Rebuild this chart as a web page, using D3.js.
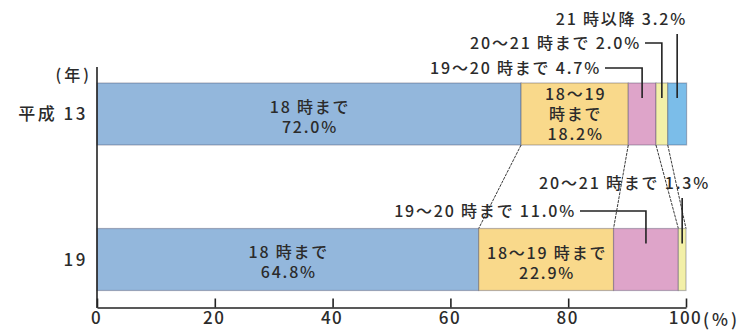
<!DOCTYPE html>
<html lang="ja">
<head>
  <meta charset="UTF-8" />
  <title>帰宅時刻の構成比</title>
  <script src="https://d3js.org/d3.v7.min.js"></script>
  <style>
    body {
      margin: 0;
      background: #fff;
      font-family: "Noto Sans CJK JP", "Noto Sans", sans-serif;
    }
    svg { display: block; }
    text { fill: #2b2b2b; font-weight: 500; }
  </style>
</head>
<body>
<svg id="chart" width="744" height="330"></svg>

<script>
  // data
  const years = ["平成 13", "19"];
  const categories = ["18 時まで", "18〜19 時まで", "19〜20 時まで", "20〜21 時まで", "21 時以降"];
  const h13 = [72.0, 18.2, 4.7, 2.0, 3.2];
  const h19 = [64.8, 22.9, 11.0, 1.3, 0];
  const xTicks = [0, 20, 40, 60, 80, 100];
  const colors = ["#93b7dc", "#f9d98b", "#dea4c9", "#f3f0a8", "#7bbde9"];

  const svg = d3.select("#chart");
  const x = d3.scaleLinear().domain([0, 100]).range([97, 686]);
  const y = d3.scalePoint().domain(years).range([114, 259.5]);
  const barH = 62;

  const series = [h13, h19];
  const fmt = d3.format(".1f");

  // stack each row
  const rows = series.map((vals, i) => {
    let acc = 0;
    return vals.map((v, j) => {
      const seg = { year: years[i], cat: j, v: v, x0: acc, x1: acc + v };
      acc += v;
      return seg;
    });
  });

  // connector lines between the two bars (segment boundaries)
  const g = svg.append("g");
  for (let j = 0; j < 4; j++) {
    const b1 = rows[0][j].x1, b2 = Math.min(rows[1][j].x1, 100);
    g.append("line")
      .attr("x1", x(b1)).attr("y1", y(years[0]) + barH / 2)
      .attr("x2", x(b2)).attr("y2", y(years[1]) - barH / 2)
      .attr("stroke", "#3a3a3a")
      .attr("stroke-width", 1)
      .attr("stroke-dasharray", "3,1");
  }

  // bars
  rows.forEach(row => {
    g.selectAll(null)
      .data(row.filter(d => d.v > 0))
      .enter()
      .append("rect")
      .attr("x", d => x(d.x0))
      .attr("y", d => y(d.year) - barH / 2)
      .attr("width", d => x(d.x1) - x(d.x0))
      .attr("height", barH)
      .attr("fill", d => colors[d.cat])
      .attr("stroke", "rgba(60,60,90,0.35)")
      .attr("stroke-width", 1.2);
  });

  // axes
  const xAxis = svg.append("g")
    .attr("transform", "translate(0,307.5)")
    .call(d3.axisBottom(x).tickValues(xTicks).tickSizeInner(-9).tickSizeOuter(0).tickPadding(4));
  xAxis.select(".domain").attr("stroke", "#222").attr("stroke-width", 1.6);
  xAxis.selectAll(".tick line").attr("stroke", "#222").attr("stroke-width", 1.6);
  xAxis.selectAll(".tick text")
    .attr("font-size", 17)
    .attr("font-family", "'Noto Sans CJK JP', sans-serif")
    .attr("letter-spacing", 1.5)
    .attr("dx", -1)
    .attr("fill", "#2b2b2b");
  svg.append("text")
    .attr("x", x(100) + 17).attr("y", 326)
    .attr("font-size", 17)
    .attr("letter-spacing", 3)
    .text("(%)");

  svg.append("line")
    .attr("x1", x(0)).attr("x2", x(0))
    .attr("y1", 67).attr("y2", 308)
    .attr("stroke", "#222").attr("stroke-width", 1.6);

  // year labels
  svg.append("text")
    .attr("x", 92).attr("y", 81)
    .attr("text-anchor", "end")
    .attr("font-size", 16)
    .attr("letter-spacing", 3)
    .text("(年)");
  svg.selectAll(null)
    .data(years)
    .enter()
    .append("text")
    .attr("x", 88)
    .attr("y", d => y(d) + 6)
    .attr("text-anchor", "end")
    .attr("font-size", 17)
    .attr("letter-spacing", 2.5)
    .text(d => d);

  // labels inside the two big segments
  function inside(seg, lines, dy0) {
    const t = svg.append("text")
      .attr("text-anchor", "middle")
      .attr("font-size", 16)
      .attr("letter-spacing", 1.8);
    lines.forEach((s, k) => {
      t.append("tspan")
        .attr("x", x((seg.x0 + seg.x1) / 2) + 1)
        .attr("y", y(seg.year) + dy0 + k * 20)
        .text(s);
    });
  }
  inside(rows[0][0], ["18 時まで", fmt(h13[0]) + "%"], -1);
  inside(rows[0][1], ["18〜19", "時まで", fmt(h13[1]) + "%"], -14);
  inside(rows[1][0], ["18 時まで", fmt(h19[0]) + "%"], -2);
  inside(rows[1][1], ["18〜19 時まで", fmt(h19[1]) + "%"], -1);

  // callouts: label end x, label y, and the elbow/leader
  function callout(seg, label, textX, textY, lineY) {
    const cx = x((seg.x0 + seg.x1) / 2);
    const tipY = y(seg.year) - barH / 2 + 15;
    svg.append("text")
      .attr("x", textX).attr("y", textY)
      .attr("text-anchor", "end")
      .attr("font-size", 16)
      .attr("letter-spacing", 1.8)
      .text(label);
    const pts = lineY == null
      ? [[cx, textY + 9], [cx, tipY]]
      : [[textX + 4, lineY], [cx, lineY], [cx, tipY]];
    svg.append("path")
      .attr("d", d3.line()(pts))
      .attr("fill", "none")
      .attr("stroke", "#222")
      .attr("stroke-width", 1.6);
  }
  callout(rows[0][2], categories[2] + " " + fmt(h13[2]) + "%", 601, 74, 68);
  callout(rows[0][3], categories[3] + " " + fmt(h13[3]) + "%", 641, 49, 43);
  callout(rows[0][4], categories[4] + " " + fmt(h13[4]) + "%", 687, 25, null);
  callout(rows[1][2], categories[2] + " " + fmt(h19[2]) + "%", 576, 217, 211);
  callout(rows[1][3], categories[3] + " " + fmt(h19[3]) + "%", 710, 189, null);
</script>
</body>
</html>
